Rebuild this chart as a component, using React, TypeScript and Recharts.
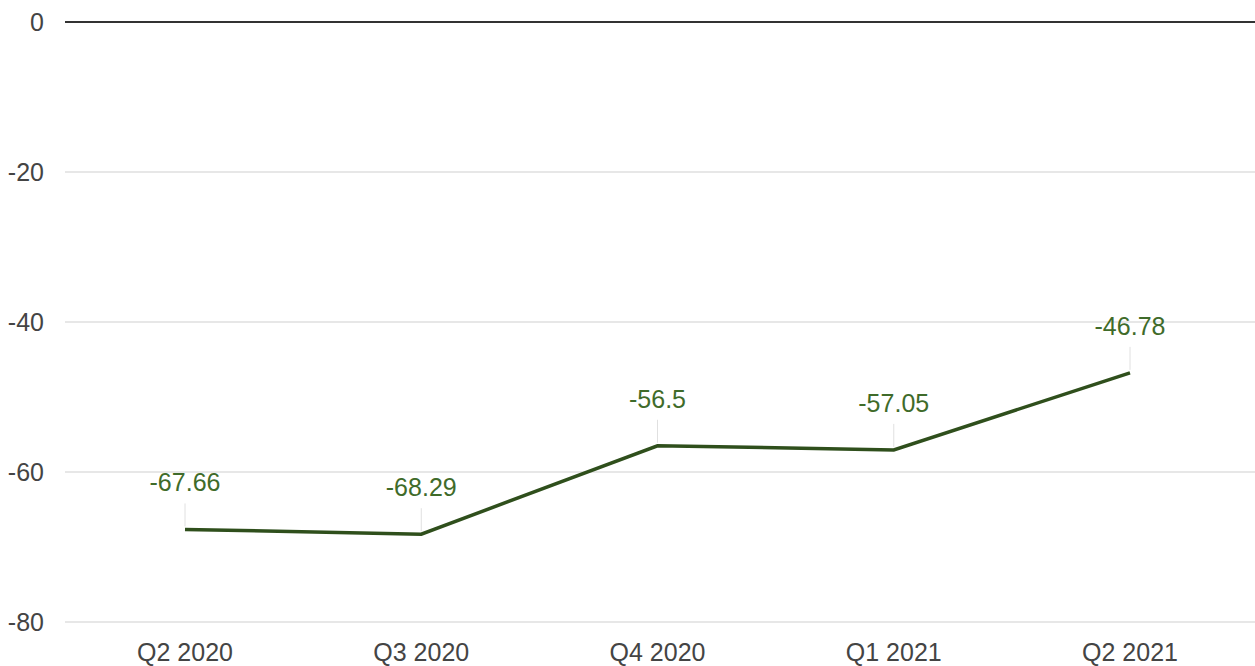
import * as React from "react";
import {
  CartesianGrid,
  LabelList,
  Line,
  LineChart,
  ReferenceLine,
  XAxis,
  YAxis,
} from "recharts";

const quarters = ["Q2 2020", "Q3 2020", "Q4 2020", "Q1 2021", "Q2 2021"];
const values = [-67.66, -68.29, -56.5, -57.05, -46.78];
const yTicks = [0, -20, -40, -60, -80];

const data = quarters.map((quarter, index) => ({ quarter, value: values[index] }));

const FONT = "'Liberation Sans', Arial, sans-serif";

function YTick({ x, y, payload }: any) {
  return (
    <text
      x={x - 13}
      y={y}
      dy={9}
      textAnchor="end"
      fontFamily={FONT}
      fontSize={25}
      fill="#444"
    >
      {payload.value}
    </text>
  );
}

function XTick({ x, y, payload }: any) {
  return (
    <text
      x={x}
      y={y}
      dy={31}
      textAnchor="middle"
      fontFamily={FONT}
      fontSize={25}
      fill="#444"
    >
      {payload.value}
    </text>
  );
}

function PointLabel({ x, y, value }: any) {
  return (
    <g>
      <line x1={x} x2={x} y1={y - 3} y2={y - 26} stroke="#e0e0e0" strokeWidth={1} />
      <text
        x={x}
        y={y - 38}
        textAnchor="middle"
        fontFamily={FONT}
        fontSize={25}
        fill="#3f6b2a"
      >
        {value}
      </text>
    </g>
  );
}

export default function App() {
  return (
    <div style={{ position: "absolute", left: 0, top: 0, background: "#fff" }}>
      <LineChart
        width={1255}
        height={666}
        data={data}
        margin={{ top: 22, right: 0, bottom: 0, left: 0 }}
      >
        <CartesianGrid stroke="#cfcfcf" vertical={false} />
        <XAxis
          dataKey="quarter"
          axisLine={false}
          tickLine={false}
          height={44}
          padding={{ left: 120, right: 125 }}
          tick={<XTick />}
          interval={0}
        />
        <YAxis
          width={65}
          domain={[-80, 0]}
          ticks={yTicks}
          axisLine={false}
          tickLine={false}
          tick={<YTick />}
          interval={0}
        />
        <ReferenceLine y={0} stroke="#333" strokeWidth={2} />
        <Line
          type="linear"
          dataKey="value"
          stroke="#2f4f1c"
          strokeWidth={3.5}
          dot={false}
          isAnimationActive={false}
        >
          <LabelList dataKey="value" content={<PointLabel />} />
        </Line>
      </LineChart>
    </div>
  );
}
